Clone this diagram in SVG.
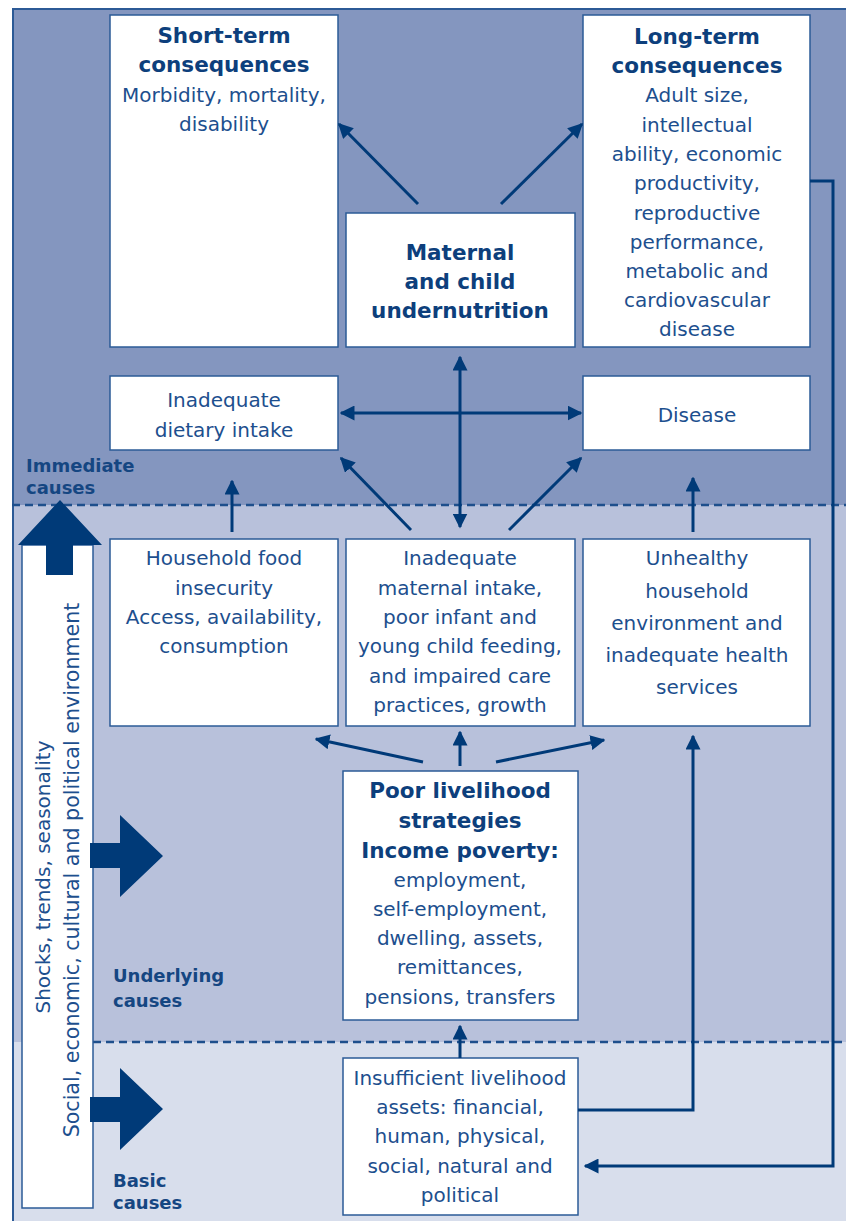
<svg xmlns="http://www.w3.org/2000/svg" width="846" height="1221" viewBox="0 0 846 1221">
<style>
.box{fill:#fff;stroke:#2b5b97;stroke-width:1.5}
.t{font-family:"DejaVu Sans","Liberation Sans",Arial,sans-serif;font-size:20px;fill:#1d4f8e;text-anchor:middle}
.b{font-weight:bold;font-size:21.5px;fill:#0d3f7c}
.lab{font-family:"DejaVu Sans","Liberation Sans",Arial,sans-serif;font-size:18px;font-weight:bold;fill:#154682}
.con{stroke:#003a78;stroke-width:3;fill:none}
.dash{stroke:#1e4f8c;stroke-width:2.5;stroke-dasharray:8 5}
.big{fill:#003a78}
</style>
<defs>
<marker id="ah" markerWidth="5" markerHeight="5" refX="4.5" refY="2.5" orient="auto" markerUnits="strokeWidth">
<path d="M0,0 L5,2.5 L0,5 Z" fill="#003a78"/>
</marker>
<marker id="as" markerWidth="5" markerHeight="5" refX="0.5" refY="2.5" orient="auto" markerUnits="strokeWidth">
<path d="M5,0 L0,2.5 L5,5 Z" fill="#003a78"/>
</marker>
</defs>
<g id="background">
<rect x="12" y="8" width="840" height="497" fill="#8496bf"/>
<rect x="12" y="505" width="840" height="537" fill="#b8c1db"/>
<rect x="12" y="1042" width="840" height="185" fill="#d8deec"/>
<path d="M13,1221 V9 H846" fill="none" stroke="#2c5a96" stroke-width="2"/>
<line class="dash" x1="12" y1="505" x2="846" y2="505"/>
<line class="dash" x1="93" y1="1042" x2="846" y2="1042"/>
<text class="lab" x="26" y="472">Immediate</text>
<text class="lab" x="26" y="494">causes</text>
<text class="lab" x="113" y="982">Underlying</text>
<text class="lab" x="113" y="1007">causes</text>
<text class="lab" x="113" y="1187">Basic</text>
<text class="lab" x="113" y="1209">causes</text>
</g>
<g id="environment">
<rect class="box" x="22" y="545" width="71" height="663"/>
<path class="big" d="M46,575 V545 H18 L60,500 L102,545 H73 V575 Z"/>
<path class="big" d="M90,843 H120 V815 L163,856 L120,897 V868 H90 Z"/>
<path class="big" d="M90,1097 H120 V1068 L163,1109 L120,1150 V1122 H90 Z"/>
<text class="t" transform="translate(50,877) rotate(-90)">Shocks, trends, seasonality</text>
<text class="t" style="font-size:20.6px" transform="translate(79,870) rotate(-90)">Social, economic, cultural and political environment</text>
</g>
<g id="short-term">
<rect class="box" x="110" y="15" width="228" height="332"/>
<text class="t b" x="224" y="43">Short-term</text>
<text class="t b" x="224" y="72">consequences</text>
<text class="t" x="224" y="102">Morbidity, mortality,</text>
<text class="t" x="224" y="131">disability</text>
</g>
<g id="long-term">
<rect class="box" x="583" y="15" width="227" height="332"/>
<text class="t b" x="697" y="44">Long-term</text>
<text class="t b" x="697" y="73">consequences</text>
<text class="t" x="697" y="102">Adult size,</text>
<text class="t" x="697" y="132">intellectual</text>
<text class="t" x="697" y="161">ability, economic</text>
<text class="t" x="697" y="190">productivity,</text>
<text class="t" x="697" y="220">reproductive</text>
<text class="t" x="697" y="249">performance,</text>
<text class="t" x="697" y="278">metabolic and</text>
<text class="t" x="697" y="307">cardiovascular</text>
<text class="t" x="697" y="336">disease</text>
</g>
<g id="undernutrition">
<rect class="box" x="346" y="213" width="229" height="134"/>
<text class="t b" x="460" y="260">Maternal</text>
<text class="t b" x="460" y="289">and child</text>
<text class="t b" x="460" y="318">undernutrition</text>
</g>
<g id="dietary-intake">
<rect class="box" x="110" y="376" width="228" height="74"/>
<text class="t" x="224" y="407">Inadequate</text>
<text class="t" x="224" y="437">dietary intake</text>
</g>
<g id="disease">
<rect class="box" x="583" y="376" width="227" height="74"/>
<text class="t" x="697" y="422">Disease</text>
</g>
<g id="food-insecurity">
<rect class="box" x="110" y="539" width="228" height="187"/>
<text class="t" x="224" y="565">Household food</text>
<text class="t" x="224" y="595">insecurity</text>
<text class="t" x="224" y="624">Access, availability,</text>
<text class="t" x="224" y="653">consumption</text>
</g>
<g id="care-practices">
<rect class="box" x="346" y="539" width="229" height="187"/>
<text class="t" x="460" y="565">Inadequate</text>
<text class="t" x="460" y="595">maternal intake,</text>
<text class="t" x="460" y="624">poor infant and</text>
<text class="t" x="460" y="653">young child feeding,</text>
<text class="t" x="460" y="683">and impaired care</text>
<text class="t" x="460" y="712">practices, growth</text>
</g>
<g id="environment-health">
<rect class="box" x="583" y="539" width="227" height="187"/>
<text class="t" x="697" y="565">Unhealthy</text>
<text class="t" x="697" y="598">household</text>
<text class="t" x="697" y="630">environment and</text>
<text class="t" x="697" y="662">inadequate health</text>
<text class="t" x="697" y="694">services</text>
</g>
<g id="livelihood">
<rect class="box" x="343" y="771" width="235" height="249"/>
<text class="t b" x="460" y="798">Poor livelihood</text>
<text class="t b" x="460" y="828">strategies</text>
<text class="t b" x="460" y="858">Income poverty:</text>
<text class="t" x="460" y="887">employment,</text>
<text class="t" x="460" y="916">self-employment,</text>
<text class="t" x="460" y="945">dwelling, assets,</text>
<text class="t" x="460" y="974">remittances,</text>
<text class="t" x="460" y="1004">pensions, transfers</text>
</g>
<g id="assets">
<rect class="box" x="343" y="1058" width="235" height="157"/>
<text class="t" x="460" y="1085">Insufficient livelihood</text>
<text class="t" x="460" y="1114">assets: financial,</text>
<text class="t" x="460" y="1143">human, physical,</text>
<text class="t" x="460" y="1173">social, natural and</text>
<text class="t" x="460" y="1202">political</text>
</g>
<g id="connectors">
<line class="con" x1="418" y1="204" x2="339" y2="124" marker-end="url(#ah)"/>
<line class="con" x1="501" y1="204" x2="582" y2="124" marker-end="url(#ah)"/>
<line class="con" x1="460" y1="357" x2="460" y2="527" marker-start="url(#as)" marker-end="url(#ah)"/>
<line class="con" x1="341" y1="413" x2="581" y2="413" marker-start="url(#as)" marker-end="url(#ah)"/>
<line class="con" x1="411" y1="530" x2="341" y2="458" marker-end="url(#ah)"/>
<line class="con" x1="509" y1="530" x2="581" y2="458" marker-end="url(#ah)"/>
<line class="con" x1="232" y1="532" x2="232" y2="481" marker-end="url(#ah)"/>
<line class="con" x1="693" y1="532" x2="693" y2="478" marker-end="url(#ah)"/>
<line class="con" x1="423" y1="762" x2="316" y2="739" marker-end="url(#ah)"/>
<line class="con" x1="460" y1="766" x2="460" y2="732" marker-end="url(#ah)"/>
<line class="con" x1="496" y1="762" x2="604" y2="740" marker-end="url(#ah)"/>
<polyline class="con" points="578,1110 693,1110 693,736" marker-end="url(#ah)"/>
<polyline class="con" points="810,181 833,181 833,1166 585,1166" marker-end="url(#ah)"/>
<line class="con" x1="460" y1="1058" x2="460" y2="1026" marker-end="url(#ah)"/>
</g>
</svg>
